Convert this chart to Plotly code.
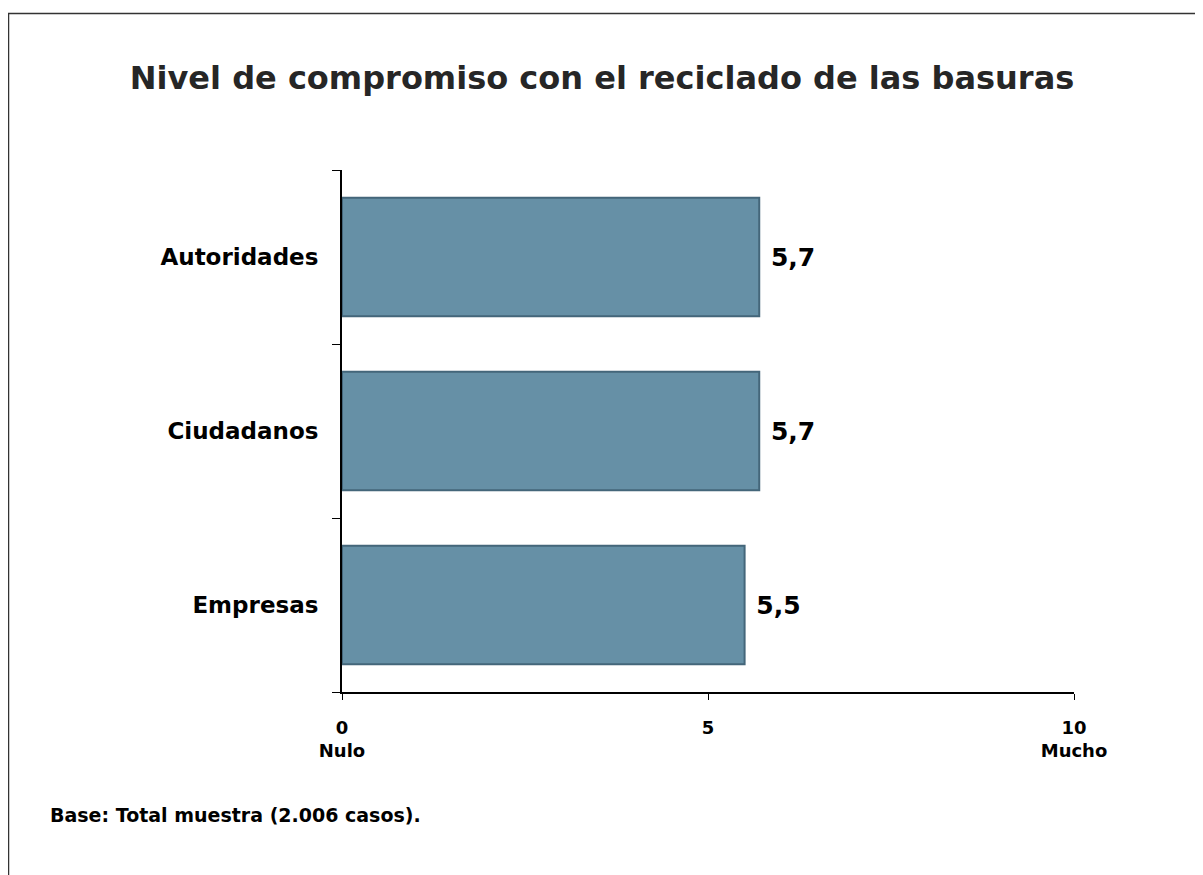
import plotly.graph_objects as go

categories = ["Empresas", "Ciudadanos", "Autoridades"]
values = [5.5, 5.7, 5.7]
tick_vals = [0, 5, 10]
tick_text = ["0<br>Nulo", "5", "10<br>Mucho"]

title_text = "Nivel de compromiso con el reciclado de las basuras"
footnote = "Base: Total muestra (2.006 casos)."

FONT = "DejaVu Sans"

# figure-pixel layout (page has an 8px body margin)
L, R, T, B = 334, 137, 162, 191
W, H = 1203, 875
PW, PH = W - L - R, H - T - B


def px(x):
    return (x - L) / PW


def py(y):
    return (H - B - y) / PH


fig = go.Figure()
fig.add_trace(go.Bar(
    y=categories, x=values, orientation="h", width=0.68,
    marker=dict(color="#6690A6", line=dict(color="#44667A", width=2)),
    texttemplate="<b> %{x:.1f}</b>", textposition="outside",
    textfont=dict(family=FONT, size=25, color="#000000"),
    cliponaxis=False, hoverinfo="skip",
))

fig.update_layout(
    width=W, height=H,
    paper_bgcolor="white", plot_bgcolor="white",
    separators=",.",
    margin=dict(l=L, r=R, t=T, b=B),
    showlegend=False,
    title=dict(text="<b>" + title_text + "</b>", x=594 / W, xanchor="center",
               y=1 - 70 / H, yanchor="middle",
               font=dict(family=FONT, size=32, color="#262626")),
    xaxis=dict(range=[0, 10], tickvals=tick_vals,
               ticktext=["<b>" + t.replace("<br>", "</b><br><b>") + "</b>" for t in tick_text],
               showgrid=False, zeroline=False, showline=True, linecolor="black", linewidth=2,
               ticks="outside", ticklen=6, tickcolor="black", ticklabelstandoff=12,
               tickfont=dict(family=FONT, size=18, color="#000000")),
    yaxis=dict(showgrid=False, zeroline=False, showline=True, linecolor="black", linewidth=2,
               ticks="outside", ticklen=8, tickcolor="black", tickson="boundaries",
               ticklabelstandoff=17,
               tickvals=categories, ticktext=["<b>" + c + "</b>" for c in categories],
               tickfont=dict(family=FONT, size=23, color="#000000")),
    annotations=[dict(text="<b>" + footnote + "</b>", x=px(40), y=py(807),
                      xref="paper", yref="paper", xanchor="left", yanchor="middle",
                      showarrow=False, font=dict(family=FONT, size=19, color="#000000"))],
)

# border of the slide (top and left edges)
fig.add_shape(type="line", xref="paper", yref="paper", x0=px(0), x1=px(W),
              y0=py(5.5), y1=py(5.5), line=dict(color="#333333", width=1.5))
fig.add_shape(type="line", xref="paper", yref="paper", x0=px(0.5), x1=px(0.5),
              y0=py(5.5), y1=py(H), line=dict(color="#333333", width=1.5))

fig.write_html("out.html")
